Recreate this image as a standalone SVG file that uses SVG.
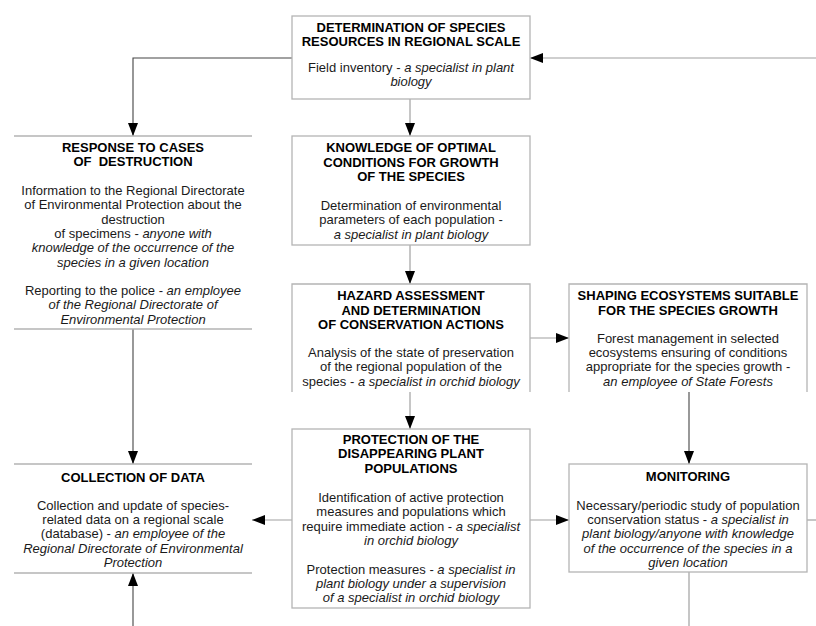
<svg xmlns="http://www.w3.org/2000/svg" width="816" height="626" viewBox="0 0 816 626">
<defs>
<marker id="ah" markerWidth="13" markerHeight="10" refX="13" refY="5" orient="auto" markerUnits="userSpaceOnUse">
<path d="M0,0 L13,5 L0,10 Z" fill="#000"/>
</marker>
</defs>
<style>
text{font-family:"Liberation Sans",Arial,sans-serif;font-size:13px;fill:#1a1a1a;text-anchor:middle}
.t{font-weight:bold;fill:#000}
.i{font-style:italic}
.b{fill:none;stroke:#b4b4b4;stroke-width:1.3}
.c{fill:none;stroke:#a0a0a0;stroke-width:1.2}
.cd{fill:none;stroke:#444;stroke-width:1.1}
</style>
<rect width="816" height="626" fill="#fff"/>
<g id="connectors">
<path class="cd" d="M292,58 H133 V136" marker-end="url(#ah)"/>
<path class="c" d="M816,58 H530" marker-end="url(#ah)"/>
<path class="c" d="M410,99 V136" marker-end="url(#ah)"/>
<path class="c" d="M410,245 V284" marker-end="url(#ah)"/>
<path class="c" d="M530,338 H569" marker-end="url(#ah)"/>
<path class="c" d="M410,392 V429" marker-end="url(#ah)"/>
<path class="cd" d="M133,329 V464" marker-end="url(#ah)"/>
<path class="c" d="M292,520 H252" marker-end="url(#ah)"/>
<path class="c" d="M530,520 H569" marker-end="url(#ah)"/>
<path class="cd" d="M689,392 V464" marker-end="url(#ah)"/>
<path class="c" d="M807,520 H816"/>
<path class="c" d="M689,572 V626"/>
<path class="cd" d="M133,626 V573" marker-end="url(#ah)"/>
</g>
<g id="determination">
<rect class="b" x="292" y="16" width="238" height="83"/>
<text class="t" x="411" y="32">DETERMINATION OF SPECIES</text>
<text class="t" x="411" y="46">RESOURCES IN REGIONAL SCALE</text>
<text x="411" y="72">Field inventory - <tspan class="i">a specialist in plant</tspan></text>
<text class="i" x="411" y="86">biology</text>
</g>
<g id="response">
<path class="b" d="M14,136 H252 M14,329 H252"/>
<text class="t" x="133" y="152">RESPONSE TO CASES</text>
<text class="t" x="133" y="166" xml:space="preserve">OF  DESTRUCTION</text>
<text x="133" y="195">Information to the Regional Directorate</text>
<text x="133" y="209">of Environmental Protection about the</text>
<text x="133" y="223.5">destruction</text>
<text x="133" y="238">of specimens - <tspan class="i">anyone with</tspan></text>
<text class="i" x="133" y="252">knowledge of the occurrence of the</text>
<text class="i" x="133" y="266.5">species in a given location</text>
<text x="133" y="295">Reporting to the police - <tspan class="i">an employee</tspan></text>
<text class="i" x="133" y="309">of the Regional Directorate of</text>
<text class="i" x="133" y="323.5">Environmental Protection</text>
</g>
<g id="knowledge">
<rect class="b" x="292" y="136" width="238" height="109"/>
<text class="t" x="411" y="152">KNOWLEDGE OF OPTIMAL</text>
<text class="t" x="411" y="166.5">CONDITIONS FOR GROWTH</text>
<text class="t" x="411" y="181">OF THE SPECIES</text>
<text x="411" y="209.5">Determination of environmental</text>
<text x="411" y="224">parameters of each population -</text>
<text class="i" x="411" y="238.5">a specialist in plant biology</text>
</g>
<g id="hazard">
<path class="b" d="M292,392 V284 H530 V392"/>
<text class="t" x="411" y="300">HAZARD ASSESSMENT</text>
<text class="t" x="411" y="314.5">AND DETERMINATION</text>
<text class="t" x="411" y="328.5">OF CONSERVATION ACTIONS</text>
<text x="411" y="356.5">Analysis of the state of preservation</text>
<text x="411" y="371">of the regional population of the</text>
<text x="411" y="385.5">species - <tspan class="i">a specialist in orchid biology</tspan></text>
</g>
<g id="shaping">
<path class="b" d="M569,392 V284 H807 V392"/>
<text class="t" x="688" y="300">SHAPING ECOSYSTEMS SUITABLE</text>
<text class="t" x="688" y="314.5">FOR THE SPECIES GROWTH</text>
<text x="688" y="342.5">Forest management in selected</text>
<text x="688" y="356.5">ecosystems ensuring of conditions</text>
<text x="688" y="371">appropriate for the species growth -</text>
<text class="i" x="688" y="385.5">an employee of State Forests</text>
</g>
<g id="protection">
<rect class="b" x="292" y="429" width="238" height="179"/>
<text class="t" x="411" y="443.5">PROTECTION OF THE</text>
<text class="t" x="411" y="458">DISAPPEARING PLANT</text>
<text class="t" x="411" y="472.5">POPULATIONS</text>
<text x="411" y="501.5">Identification of active protection</text>
<text x="411" y="516">measures and populations which</text>
<text x="411" y="530.5">require immediate action - <tspan class="i">a specialist</tspan></text>
<text class="i" x="411" y="545">in orchid biology</text>
<text x="411" y="573.5">Protection measures - <tspan class="i">a specialist in</tspan></text>
<text class="i" x="411" y="588">plant biology under a supervision</text>
<text class="i" x="411" y="602">of a specialist in orchid biology</text>
</g>
<g id="collection">
<path class="b" d="M14,464 H252 M14,573 H252"/>
<text class="t" x="133" y="481.5">COLLECTION OF DATA</text>
<text x="133" y="509.5">Collection and update of species-</text>
<text x="133" y="524">related data on a regional scale</text>
<text x="133" y="538">(database) - <tspan class="i">an employee of the</tspan></text>
<text class="i" x="133" y="552.5">Regional Directorate of Environmental</text>
<text class="i" x="133" y="566.5">Protection</text>
</g>
<g id="monitoring">
<rect class="b" x="569" y="464" width="238" height="108"/>
<text class="t" x="688" y="481">MONITORING</text>
<text x="688" y="509.5">Necessary/periodic study of population</text>
<text x="688" y="524">conservation status - <tspan class="i">a specialist in</tspan></text>
<text class="i" x="688" y="538">plant biology/anyone with knowledge</text>
<text class="i" x="688" y="552.5">of the occurrence of the species in a</text>
<text class="i" x="688" y="566.5">given location</text>
</g>
</svg>
